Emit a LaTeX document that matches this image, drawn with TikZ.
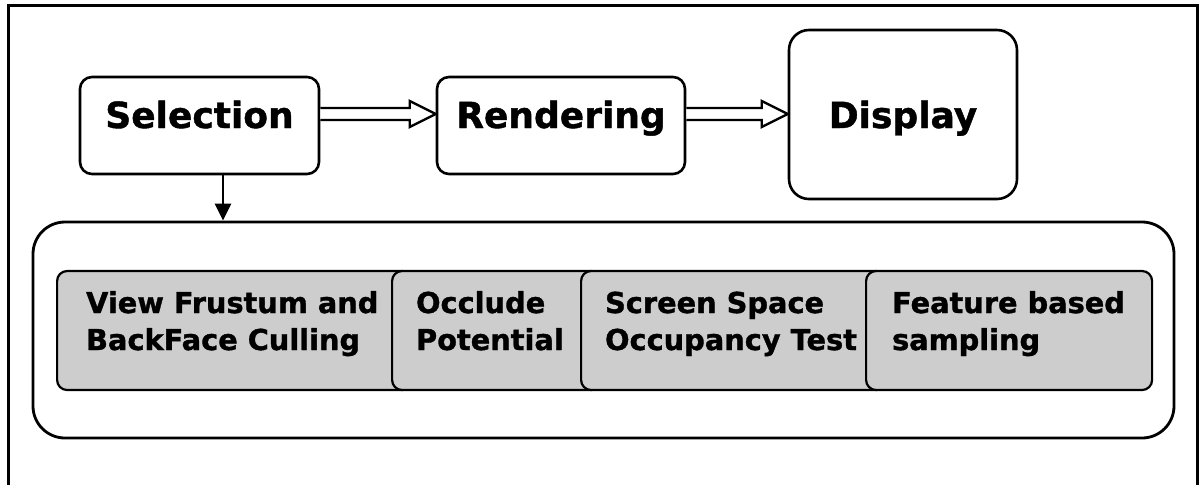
\documentclass[tikz,border=0pt]{standalone}
\usepackage{fontspec}
\setmainfont{DejaVu Sans}[BoldFeatures={FakeBold=1.2}]
\usetikzlibrary{arrows.meta,calc}
\definecolor{boxgray}{HTML}{CDCDCD}
% two left-aligned lines of fixed width, baseline on the first line
\newcommand\twolines[3]{\vtop{\hbox to #1{#2\hss}\hbox to #1{#3\hss}}}
% hollow block arrow between two points on the same row
\newcommand\hollowarrow[2]{%
  \filldraw[hollow] ($(#1)+(0,-6)$) -- ($(#2)+(-26,-6)$) -- ($(#2)+(-26,-13)$)
    -- (#2) -- ($(#2)+(-26,13)$) -- ($(#2)+(-26,6)$) -- ($(#1)+(0,6)$);}
\begin{document}
\begin{tikzpicture}[x=0.5pt,y=-0.5pt,
  stage/.style={draw, line width=1.3pt, inner sep=0pt,
    font=\fontsize{18}{21}\selectfont\bfseries, text height=13.5pt},
  hollow/.style={draw, fill=white, line width=1.2pt, line join=miter},
  frame/.style={draw, line width=1.4pt, rounded corners=16pt},
  gbox/.style={draw, fill=boxgray, line width=1.1pt, rounded corners=5pt,
    anchor=west, minimum height=59.5pt, inner ysep=0pt,
    font=\fontsize{14.4}{18.5}\selectfont\bfseries,
    text height=10.5pt, text depth=28pt},
  drop/.style={line width=1.4pt, -{Triangle[width=8pt,length=8.5pt]}}
]
\useasboundingbox (0,0) rectangle (1200,484);
% outer border, open at the bottom
\draw[line width=1.5pt] (8,486) -- (8,5) -- (1197,5) -- (1197,486);

% pipeline stages
\node[stage, rounded corners=6pt, minimum width=119.5pt, minimum height=48.5pt,
  text depth=11pt] (sel) at (199.5,125.5) {Selection};
\node[stage, rounded corners=6pt, minimum width=124pt, minimum height=48.5pt,
  text depth=11pt] (ren) at (561,125.5) {Rendering};
\node[stage, rounded corners=10pt, minimum width=114pt, minimum height=84.5pt,
  text depth=0pt] (disp) at (903,114.5) {Display};

\coordinate (row) at (0,114);
\hollowarrow{sel.east |- row}{ren.west |- row}
\hollowarrow{ren.east |- row}{disp.west |- row}

% selection techniques
\node[frame, minimum width=570.5pt, minimum height=108pt] (cont) at (603.5,330) {};
\node[gbox, inner xsep=14.5pt] (vf) at (56,330.5)
  {\twolines{148.5pt}{View Frustum and}{BackFace Culling}};
\node[gbox, inner xsep=12pt] (oc) at (391,330.5)
  {\twolines{80.5pt}{Occlude}{Potential}};
\node[gbox, inner xsep=12pt] (ss) at (580,330.5)
  {\twolines{128.5pt}{Screen Space}{Occupancy Test}};
\node[gbox, inner xsep=13pt] (fb) at (865,330.5)
  {\twolines{117pt}{Feature based}{sampling}};

\coordinate (dropx) at (223,0);
\draw[drop] (sel.south -| dropx) -- (cont.north -| dropx);
\end{tikzpicture}
\end{document}
